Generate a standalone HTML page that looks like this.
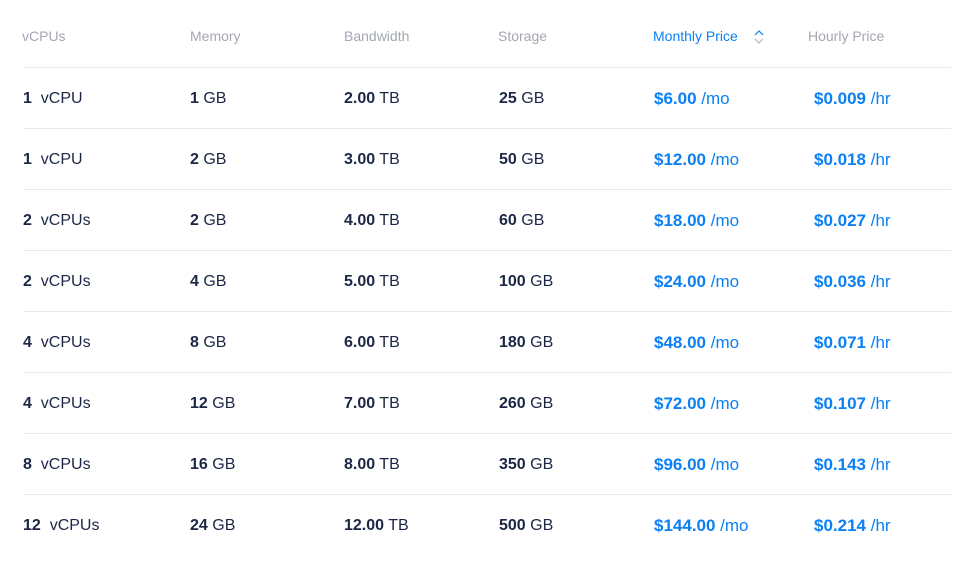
<!DOCTYPE html>
<html><head><style>
body{margin:0;width:978px;height:570px;background:#fff;font-family:"Liberation Sans",sans-serif;position:relative;overflow:hidden}
.t{position:absolute;white-space:nowrap;line-height:20px}
.h{font-size:14px;color:#a3a7b3;top:26px}
.d{font-size:16px;color:#1c2645}
.d b{font-weight:bold}
.p{color:#0b80f5;font-size:17px}
.line{position:absolute;left:23px;width:928px;height:1px;background:#e6e8ee}
</style></head><body>
<div class="t h" style="left:22px">vCPUs</div>
<div class="t h" style="left:190px">Memory</div>
<div class="t h" style="left:344px">Bandwidth</div>
<div class="t h" style="left:498px">Storage</div>
<div class="t h" style="left:653px;color:#0b80f5">Monthly Price</div>
<svg style="position:absolute;left:753px;top:29px" width="12" height="16"><path d="M2 6 L6 2 L10 6" fill="none" stroke="#0b80f5" stroke-width="1.2"/><path d="M2 10 L6 14 L10 10" fill="none" stroke="#b5b9c4" stroke-width="1.2"/></svg>
<div class="t h" style="left:808px">Hourly Price</div>
<div id="rows"></div>
<script>
var r=[["1","vCPU","1","2.00","25","6.00","0.009"],["1","vCPU","2","3.00","50","12.00","0.018"],["2","vCPUs","2","4.00","60","18.00","0.027"],["2","vCPUs","4","5.00","100","24.00","0.036"],["4","vCPUs","8","6.00","180","48.00","0.071"],["4","vCPUs","12","7.00","260","72.00","0.107"],["8","vCPUs","16","8.00","350","96.00","0.143"],["12","vCPUs","24","12.00","500","144.00","0.214"]];
var h="";
r.forEach(function(x,i){var y=89+61*i;
h+='<div class="line" style="top:'+(67+61*i)+'px"></div>';
h+='<div class="t d" style="left:23px;top:'+y+'px"><b>'+x[0]+'</b>&nbsp; '+x[1]+'</div>';
h+='<div class="t d" style="left:190px;top:'+y+'px"><b>'+x[2]+'</b> GB</div>';
h+='<div class="t d" style="left:344px;top:'+y+'px"><b>'+x[3]+'</b> TB</div>';
h+='<div class="t d" style="left:499px;top:'+y+'px"><b>'+x[4]+'</b> GB</div>';
h+='<div class="t d p" style="left:654px;top:'+y+'px"><b>$'+x[5]+'</b> /mo</div>';
h+='<div class="t d p" style="left:814px;top:'+y+'px"><b>$'+x[6]+'</b> /hr</div>';});
document.getElementById("rows").innerHTML=h;
</script>
</body></html>
